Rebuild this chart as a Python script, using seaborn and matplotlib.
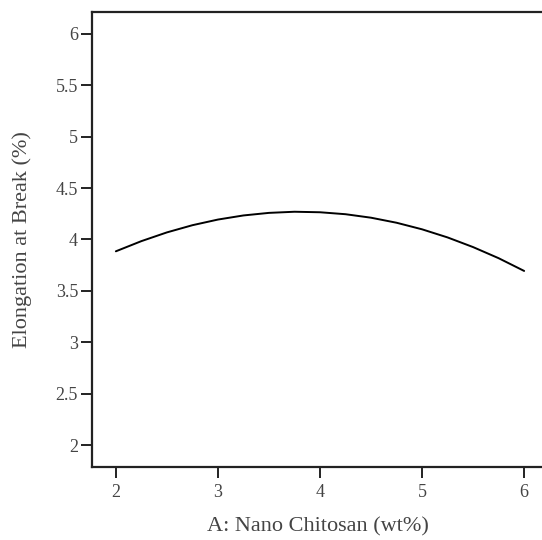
import numpy as np
import pandas as pd
import seaborn as sns
import matplotlib
matplotlib.use("Agg")
import matplotlib.pyplot as plt

# values
nano_chitosan = [2.0, 2.25, 2.5, 2.75, 3.0, 3.25, 3.5, 3.75, 4.0,
                 4.25, 4.5, 4.75, 5.0, 5.25, 5.5, 5.75, 6.0]
elongation = [3.885, 3.984, 4.069, 4.139, 4.194, 4.234, 4.259, 4.270, 4.265,
              4.246, 4.212, 4.163, 4.099, 4.020, 3.926, 3.818, 3.694]
x_ticks = [2, 3, 4, 5, 6]
y_ticks = [2, 2.5, 3, 3.5, 4, 4.5, 5, 5.5, 6]
y_tick_labels = ["2", "2.5", "3", "3.5", "4", "4.5", "5", "5.5", "6"]

df = pd.DataFrame({"x": nano_chitosan, "y": elongation})

sns.set_theme(style="ticks")
plt.rcParams['font.family'] = ['Liberation Serif', 'DejaVu Serif']

fig = plt.figure(figsize=(5.42, 5.40), dpi=100)
ax = fig.add_axes([0.1697, 0.1352, 0.835, 0.8426])

sns.lineplot(data=df, x="x", y="y", ax=ax, color="black", linewidth=1.4)

ax.set_xlim(1.766, 6.2)
ax.set_ylim(1.786, 6.214)
ax.set_xticks(x_ticks)
ax.set_yticks(y_ticks)
ax.set_yticklabels(y_tick_labels)

for side in ["left", "bottom", "top"]:
    ax.spines[side].set_linewidth(1.6)
    ax.spines[side].set_color("#222222")
ax.spines["right"].set_visible(False)

ax.tick_params(axis="both", direction="out", length=8, width=1.4,
               color="#222222", labelsize=13, labelcolor="#444444", pad=2)
ax.tick_params(axis="x", pad=4)

ax.set_xlabel("A: Nano Chitosan (wt%)", fontsize=16, color="#444444")
ax.set_ylabel("Elongation at Break (%)", fontsize=16, color="#444444")
ax.xaxis.set_label_coords(0.5, -0.132)
ax.yaxis.set_label_coords(-0.155, 0.5)
ax.xaxis.label.set_va("center")
ax.yaxis.label.set_va("center")

plt.savefig("out.png", dpi=100)
